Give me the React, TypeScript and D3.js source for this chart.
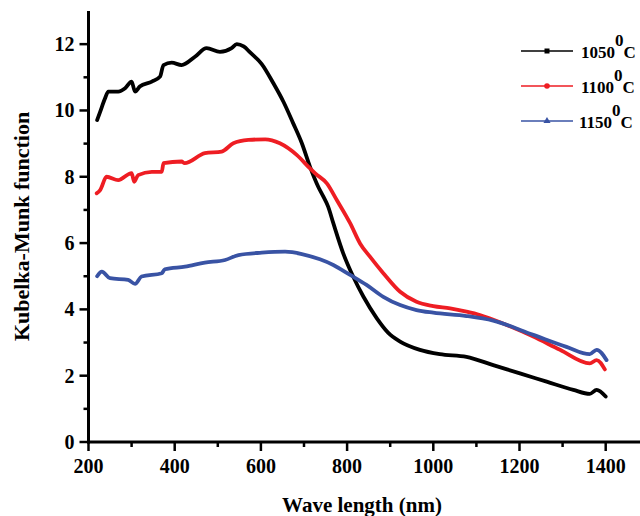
import React from "react";
import * as d3 from "d3";

const wl1050 = [220, 227, 238, 246, 269, 285, 300, 308, 319, 347, 366, 374, 393, 416, 447, 474, 505, 532, 544, 560, 575, 602, 629, 652, 675, 695, 714, 733, 745, 756, 768, 791, 814, 838, 869, 895, 923, 969, 1015, 1077, 1139, 1201, 1263, 1325, 1363, 1379, 1400];
const km1050 = [9.71, 9.96, 10.35, 10.57, 10.57, 10.67, 10.87, 10.57, 10.72, 10.87, 11.02, 11.37, 11.44, 11.37, 11.62, 11.88, 11.77, 11.88, 12.0, 11.93, 11.75, 11.4, 10.82, 10.27, 9.61, 9.01, 8.3, 7.7, 7.4, 7.1, 6.6, 5.69, 4.99, 4.38, 3.73, 3.3, 3.03, 2.78, 2.65, 2.57, 2.32, 2.07, 1.82, 1.57, 1.45, 1.57, 1.37];

const wl1100 = [219, 227, 242, 269, 300, 306, 315, 347, 370, 374, 416, 423, 470, 509, 536, 571, 610, 644, 683, 714, 726, 753, 776, 807, 830, 853, 884, 923, 961, 1000, 1039, 1077, 1108, 1170, 1232, 1294, 1363, 1379, 1398];
const km1100 = [7.5, 7.6, 8.0, 7.9, 8.11, 7.85, 8.05, 8.15, 8.15, 8.41, 8.46, 8.41, 8.71, 8.76, 9.01, 9.11, 9.13, 9.01, 8.66, 8.25, 8.1, 7.8, 7.3, 6.6, 5.99, 5.59, 5.09, 4.53, 4.23, 4.1, 4.03, 3.93, 3.83, 3.53, 3.18, 2.78, 2.37, 2.47, 2.19];

const wl1150 = [220, 231, 250, 292, 308, 323, 370, 377, 424, 470, 517, 548, 602, 656, 695, 737, 768, 807, 845, 884, 923, 961, 1000, 1077, 1139, 1232, 1309, 1363, 1379, 1402];
const km1150 = [5.0, 5.14, 4.94, 4.89, 4.77, 4.99, 5.09, 5.21, 5.29, 5.41, 5.49, 5.64, 5.71, 5.74, 5.67, 5.51, 5.34, 5.04, 4.74, 4.38, 4.13, 3.98, 3.9, 3.8, 3.66, 3.23, 2.87, 2.65, 2.78, 2.47];

const seriesNames = ["1050", "1100", "1150"];
const seriesColors = ["#000000", "#ee1d23", "#3953a4"];
const xTicks = [200, 400, 600, 800, 1000, 1200, 1400];
const yTicks = [0, 2, 4, 6, 8, 10, 12];

const FONT = "'Liberation Serif', 'Times New Roman', serif";

export default function App() {
  const x = d3.scaleLinear().domain([200, 1400]).range([88.5, 605.7]);
  const y = d3.scaleLinear().domain([0, 13]).range([442, 11]);
  const series = [
    { wl: wl1050, km: km1050 },
    { wl: wl1100, km: km1100 },
    { wl: wl1150, km: km1150 },
  ];
  const line = d3
    .line<[number, number]>()
    .x((d) => x(d[0]))
    .y((d) => y(d[1]))
    .curve(d3.curveMonotoneX);

  const xMinor = d3.range(300, 1500, 200);
  const yMinor = d3.range(1, 13, 2);
  const x0 = x(200);
  const yBase = y(0);

  return (
    <svg
      width={640}
      height={516}
      style={{ position: "absolute", left: 0, top: 0, background: "#fff" }}
      fontFamily={FONT}
      fontWeight="bold"
    >
      {series.map((s, i) => (
        <path
          key={i}
          d={line(s.wl.map((w, j) => [w, s.km[j]] as [number, number])) || ""}
          fill="none"
          stroke={seriesColors[i]}
          strokeWidth={3.8}
          strokeLinejoin="round"
          strokeLinecap="round"
        />
      ))}

      {/* axes */}
      <line x1={x0} x2={x0} y1={y(13)} y2={yBase + 1.5} stroke="#000" strokeWidth={3} />
      <line x1={x0 - 1.5} x2={640} y1={yBase} y2={yBase} stroke="#000" strokeWidth={3} />

      {yTicks.map((t) => (
        <g key={"y" + t}>
          <line x1={x0 - 9} x2={x0} y1={y(t)} y2={y(t)} stroke="#000" strokeWidth={2.5} />
          <text x={x0 - 14} y={y(t) + 7} textAnchor="end" fontSize={20}>
            {t}
          </text>
        </g>
      ))}
      {yMinor.map((t) => (
        <line key={"ym" + t} x1={x0 - 5} x2={x0} y1={y(t)} y2={y(t)} stroke="#000" strokeWidth={2.5} />
      ))}

      {xTicks.map((t) => (
        <g key={"x" + t}>
          <line x1={x(t)} x2={x(t)} y1={yBase} y2={yBase + 9} stroke="#000" strokeWidth={2.5} />
          <text x={x(t)} y={yBase + 31} textAnchor="middle" fontSize={20}>
            {t}
          </text>
        </g>
      ))}
      {xMinor.map((t) => (
        <line key={"xm" + t} x1={x(t)} x2={x(t)} y1={yBase} y2={yBase + 5} stroke="#000" strokeWidth={2.5} />
      ))}

      <text
        transform={`translate(29, ${y(6.5)}) rotate(-90)`}
        textAnchor="middle"
        fontSize={22}
      >
        Kubelka-Munk function
      </text>
      <text x={362} y={512} textAnchor="middle" fontSize={21}>
        Wave length (nm)
      </text>

      {/* legend */}
      {seriesNames.map((n, i) => {
        const ly = 51 + i * 35;
        const mx = 547;
        return (
          <g key={"lg" + n}>
            <line x1={521} x2={573} y1={ly} y2={ly} stroke={seriesColors[i]} strokeWidth={1.5} />
            {i === 0 && <rect x={mx - 2.5} y={ly - 2.5} width={5} height={5} fill={seriesColors[i]} />}
            {i === 1 && <circle cx={mx} cy={ly} r={2.8} fill={seriesColors[i]} />}
            {i === 2 && (
              <path
                d={d3.symbol().type(d3.symbolTriangle).size(22)() || ""}
                transform={`translate(${mx},${ly})`}
                fill={seriesColors[i]}
              />
            )}
            <text x={581 - (i === 2 ? 2 : 0)} y={ly + 7} fontSize={17}>
              {n}
              <tspan dy={-12}>0</tspan>
              <tspan dy={12}>C</tspan>
            </text>
          </g>
        );
      })}
    </svg>
  );
}
